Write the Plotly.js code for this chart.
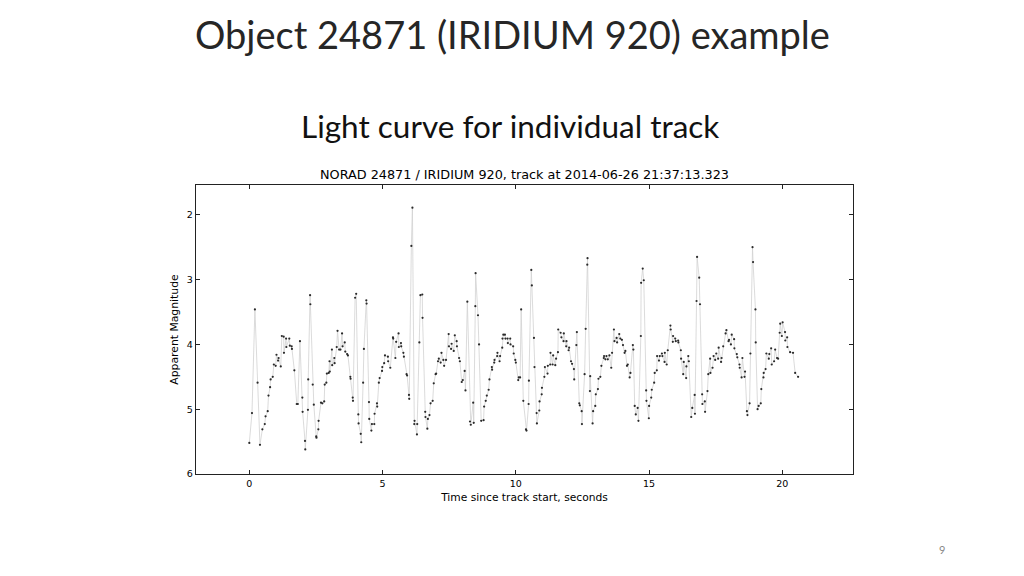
<!DOCTYPE html>
<html>
<head>
<meta charset="utf-8">
<script src="https://cdn.plot.ly/plotly-3.0.1.min.js"></script>
<style>html,body{margin:0;padding:0;background:#fff;}#chart{width:1024px;height:576px;}</style>
</head>
<body>
<div id="chart"></div>
<script>
// Time since track start (s)
const timeSec = [
0.00,0.10,0.21,0.31,0.40,0.49,0.58,0.61,0.69,0.72,0.78,0.80,0.88,0.92,0.99,1.02,1.08,1.10,1.18,1.22,
1.29,1.30,1.38,1.39,1.50,1.52,1.59,1.60,1.69,1.78,1.82,1.90,1.99,2.00,2.09,2.10,2.20,2.21,2.28,2.29,
2.38,2.42,2.51,2.52,2.59,2.60,2.69,2.74,2.81,2.83,2.89,2.91,2.98,3.01,3.02,3.10,3.11,3.19,3.20,3.28,
3.31,3.37,3.42,3.48,3.50,3.58,3.60,3.67,3.70,3.79,3.80,3.88,3.89,3.97,4.01,4.09,4.10,4.18,4.20,4.27,
4.30,4.39,4.40,4.49,4.50,4.58,4.60,4.69,4.70,4.79,4.80,4.86,4.89,4.98,4.99,5.06,5.09,5.20,5.21,5.29,
5.39,5.40,5.48,5.51,5.60,5.61,5.69,5.70,5.78,5.80,5.90,5.92,5.99,6.00,6.08,6.12,6.19,6.20,6.29,6.30,
6.38,6.42,6.49,6.50,6.60,6.61,6.68,6.70,6.76,6.80,6.88,6.92,6.99,7.01,7.08,7.11,7.18,7.21,7.28,7.31,
7.38,7.48,7.49,7.57,7.59,7.67,7.71,7.78,7.79,7.87,7.90,7.97,8.01,8.08,8.11,8.18,8.28,8.31,8.40,8.42,
8.48,8.49,8.58,8.62,8.70,8.79,8.81,8.87,8.91,8.98,9.01,9.10,9.11,9.19,9.20,9.30,9.31,9.39,9.41,9.49,
9.50,9.53,9.59,9.61,9.69,9.70,9.79,9.80,9.90,9.92,9.98,10.00,10.09,10.11,10.16,10.20,10.28,10.38,10.40,10.48,
10.49,10.58,10.60,10.68,10.70,10.78,10.79,10.88,10.89,10.97,10.98,11.07,11.09,11.19,11.20,11.29,11.30,11.38,11.40,11.48,
11.51,11.58,11.59,11.68,11.71,11.79,11.80,11.89,11.90,11.98,12.00,12.07,12.11,12.18,12.19,12.27,12.29,12.38,12.40,12.47,
12.48,12.58,12.62,12.68,12.69,12.78,12.79,12.88,12.90,12.98,13.00,13.08,13.10,13.17,13.21,13.30,13.31,13.36,13.40,13.45,
13.51,13.58,13.61,13.68,13.70,13.78,13.80,13.88,13.92,13.98,14.02,14.08,14.11,14.17,14.20,14.27,14.30,14.39,14.41,14.46,
14.50,14.57,14.60,14.69,14.70,14.76,14.80,14.89,14.90,14.99,15.00,15.08,15.10,15.19,15.21,15.29,15.30,15.37,15.40,15.48,
15.50,15.58,15.59,15.66,15.70,15.80,15.81,15.89,15.90,15.98,16.00,16.09,16.10,16.19,16.20,16.28,16.30,16.39,16.40,16.47,
16.49,16.58,16.62,16.71,16.72,16.78,16.80,16.88,16.91,16.99,17.00,17.09,17.10,17.19,17.22,17.29,17.30,17.38,17.42,17.48,
17.52,17.59,17.61,17.70,17.72,17.78,17.87,17.90,17.98,18.00,18.07,18.10,18.19,18.20,18.29,18.31,18.39,18.40,18.47,18.50,
18.58,18.60,18.67,18.69,18.77,18.80,18.88,18.90,18.99,19.00,19.07,19.11,19.19,19.21,19.29,19.30,19.37,19.40,19.49,19.51,
19.58,19.60,19.69,19.73,19.80,19.84,19.90,19.92,19.98,20.01,20.10,20.11,20.18,20.19,20.29,20.40,20.48,20.59
];
// Apparent magnitude
const magnitude = [
5.52,5.06,3.46,4.59,5.55,5.31,5.23,5.11,5.03,4.79,4.66,4.54,4.50,4.31,4.33,4.16,4.25,4.21,4.34,3.87,
3.88,4.13,3.91,4.04,3.91,4.02,4.03,4.07,4.40,4.92,4.92,3.95,4.82,5.04,5.49,5.62,5.01,4.54,3.24,3.38,
4.62,4.93,5.42,5.44,5.31,5.18,4.90,4.91,4.88,4.62,4.59,4.45,4.44,4.26,4.42,4.08,4.32,4.21,4.29,4.04,
3.79,4.08,4.08,3.83,4.03,3.97,4.11,4.15,4.17,4.50,4.53,4.82,4.87,3.28,3.22,5.08,5.22,5.38,5.51,4.59,
4.07,3.32,3.37,4.89,5.15,5.33,5.23,5.23,5.07,4.91,4.96,4.59,4.52,4.41,4.35,4.29,4.17,4.19,4.26,4.36,
3.89,3.91,4.21,3.96,3.83,4.04,3.98,4.03,4.13,4.19,4.46,4.48,4.78,4.84,2.48,1.89,5.23,5.18,5.39,5.23,
3.97,3.24,3.23,3.59,5.04,5.12,5.30,5.15,5.09,4.91,4.87,4.60,4.46,4.45,4.26,4.22,4.28,4.13,4.24,4.33,
4.24,3.84,4.03,4.07,3.99,4.10,3.86,3.95,4.03,4.21,4.26,4.58,4.55,4.41,4.71,3.34,5.19,5.24,4.90,5.21,
3.41,2.90,3.55,4.00,5.18,5.17,4.96,4.87,4.79,4.70,4.54,4.35,4.39,4.28,4.24,4.18,4.13,4.26,4.18,4.05,
3.91,3.85,3.85,3.91,3.91,3.98,3.91,4.00,4.03,4.14,4.24,4.28,4.55,4.51,4.51,3.46,4.87,5.31,5.33,4.92,
4.56,2.85,3.09,3.90,4.35,5.06,5.22,5.02,4.88,4.77,4.67,4.50,4.35,4.45,4.33,4.31,4.13,4.31,4.17,4.32,
4.22,4.12,3.77,3.82,3.89,3.95,3.83,4.03,3.95,4.09,4.05,4.26,4.30,4.38,4.54,4.01,3.81,4.91,4.94,5.03,
5.23,4.46,3.76,2.77,2.67,4.72,4.49,5.22,5.03,4.95,4.77,4.69,4.53,4.50,4.33,4.21,4.18,4.23,4.18,4.23,
4.17,4.36,4.13,3.77,3.95,3.90,3.97,3.84,3.91,3.93,4.01,4.13,4.10,4.33,4.31,4.51,4.44,4.01,4.08,4.95,
5.08,4.98,5.18,3.87,3.05,2.83,3.01,4.71,4.87,5.14,4.95,4.82,4.70,4.59,4.44,4.40,4.18,4.25,4.18,4.14,
4.18,4.27,4.13,4.31,4.09,3.71,3.77,3.96,3.87,3.91,3.95,3.94,3.97,4.09,4.22,4.46,4.27,4.52,4.34,4.18,
4.26,5.12,4.98,4.78,5.07,3.33,2.65,2.97,3.38,4.77,4.92,4.88,5.04,4.72,4.46,4.22,4.44,4.36,4.18,4.24,
4.14,4.22,4.05,4.27,4.21,4.03,3.83,3.78,3.95,3.93,4.00,3.85,3.92,4.06,4.15,4.20,4.31,4.36,4.51,4.21,
4.50,4.42,5.03,5.09,4.91,4.14,2.50,2.73,3.46,3.97,5.00,4.95,4.91,4.69,4.51,4.44,4.38,4.14,4.22,4.15,
4.06,4.31,4.26,4.08,4.21,4.22,3.82,3.68,3.87,3.66,3.81,3.94,3.89,4.04,4.12,4.13,4.44,4.50
];
const xTickVals = [0, 5, 10, 15, 20];
const yTickVals = [2, 3, 4, 5, 6];

const plotTop = 185, plotBottom = 474, plotLeft = 196, plotRight = 853;
const plotH = plotBottom - plotTop;
function py(pix) { return (plotBottom - pix) / plotH; }
function px(pix) { return (pix - plotLeft) / (plotRight - plotLeft); }

const trace = {
  x: timeSec,
  y: magnitude,
  type: 'scatter',
  mode: 'lines+markers',
  line: {color: '#d2d2d2', width: 0.8},
  marker: {color: '#2a2a2a', size: 2.2},
  hoverinfo: 'x+y'
};

const tickFont = {family: 'DejaVu Sans', size: 9.5, color: '#000'};
const layout = {
  width: 1024, height: 576,
  paper_bgcolor: '#fff', plot_bgcolor: '#fff',
  margin: {l: plotLeft, r: 1024 - plotRight, t: plotTop, b: 576 - plotBottom, pad: 0},
  showlegend: false,
  xaxis: {
    range: [-2, 22.65], tickvals: xTickVals, ticktext: xTickVals.map(String),
    showgrid: false, zeroline: false, showline: true, linecolor: '#222', linewidth: 1.3, mirror: 'allticks',
    ticks: 'inside', ticklen: 4, tickcolor: '#222', tickfont: tickFont,
    title: {text: 'Time since track start, seconds', font: {family: 'DejaVu Sans', size: 10.7, color: '#000'}, standoff: 5}
  },
  yaxis: {
    range: [6, 1.54], tickvals: yTickVals, ticktext: yTickVals.map(String),
    showgrid: false, zeroline: false, showline: true, linecolor: '#222', linewidth: 1.3, mirror: 'allticks',
    ticks: 'inside', ticklen: 4, tickcolor: '#222', tickfont: tickFont,
    title: {text: 'Apparent Magnitude', font: {family: 'DejaVu Sans', size: 10.8, color: '#000'}, standoff: 6}
  },
  annotations: [
    {text: 'Object 24871 (IRIDIUM 920) example', xref: 'paper', yref: 'paper', x: px(512), y: py(34),
     xanchor: 'center', yanchor: 'middle', showarrow: false, font: {family: 'Lato', size: 38, color: '#262626'}},
    {text: 'Light curve for individual track', xref: 'paper', yref: 'paper', x: px(510), y: py(126),
     xanchor: 'center', yanchor: 'middle', showarrow: false, font: {family: 'Lato', size: 31.5, color: '#111'}},
    {text: 'NORAD 24871 / IRIDIUM 920, track at 2014-06-26 21:37:13.323', xref: 'paper', yref: 'paper', x: px(524), y: py(175),
     xanchor: 'center', yanchor: 'middle', showarrow: false, font: {family: 'DejaVu Sans', size: 12.8, color: '#000'}},
    {text: '9', xref: 'paper', yref: 'paper', x: px(942), y: py(549),
     xanchor: 'center', yanchor: 'middle', showarrow: false, font: {family: 'Lato', size: 11, color: '#888'}}
  ]
};

Plotly.newPlot('chart', [trace], layout, {staticPlot: true, displayModeBar: false});
</script>
</body>
</html>
